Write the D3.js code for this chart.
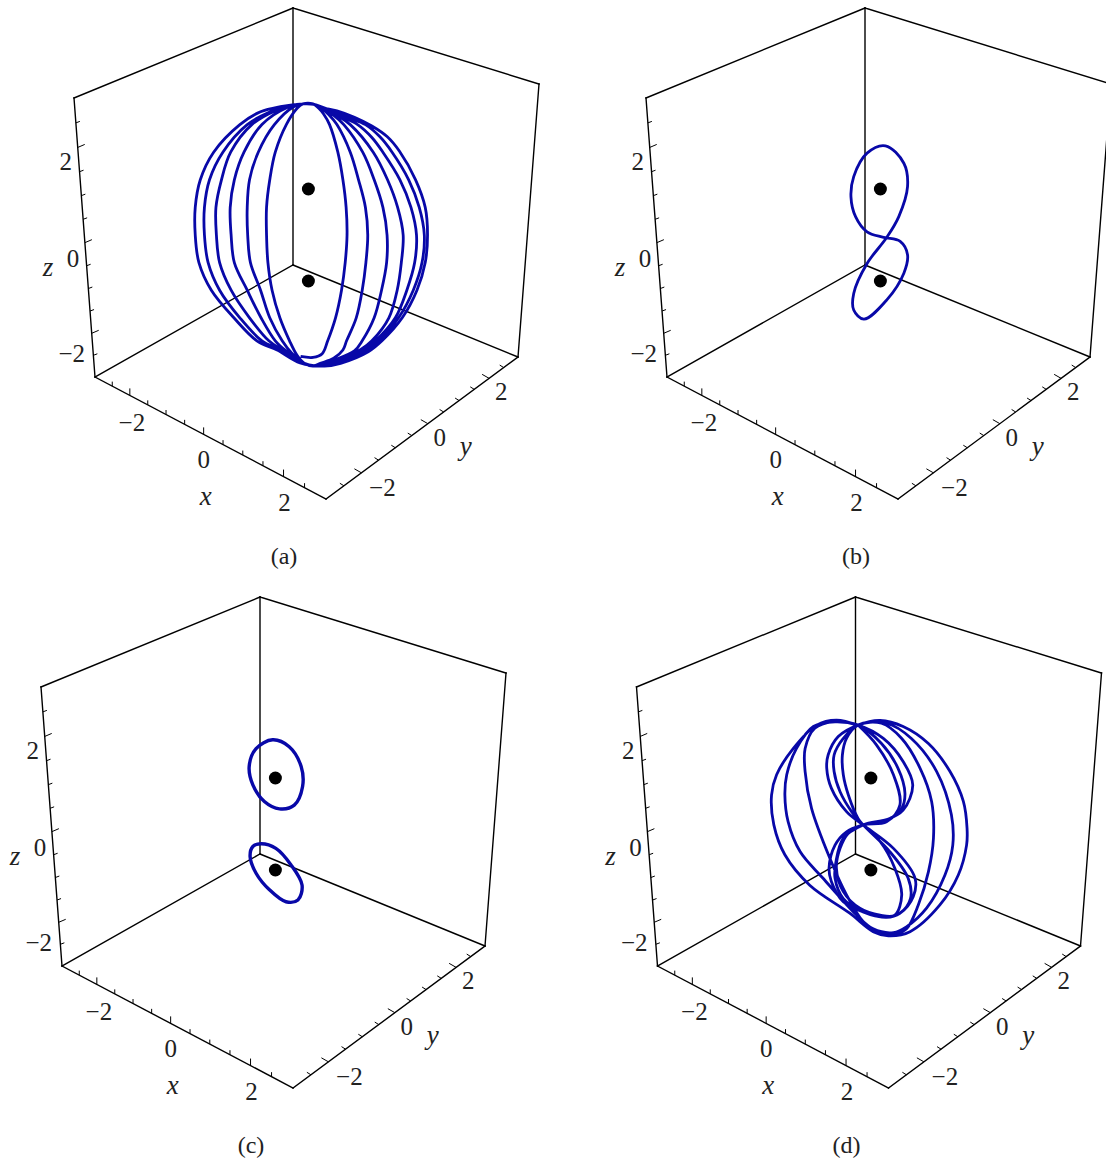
<!DOCTYPE html>
<html>
<head>
<meta charset="utf-8">
<script src="https://cdn.jsdelivr.net/npm/d3@7"></script>
<style>
  html, body { margin: 0; padding: 0; background: #fff; }
  svg { display: block; }
  text { font-family: "Liberation Serif", serif; fill: #222; }
</style>
</head>
<body>
<div id="chart"></div>
<script>
// *******************
// Data
// *******************

const panelNames = ["(a)", "(b)", "(c)", "(d)"];
const axisTicks = [-3, -2.5, -2, -1.5, -1, -0.5, 0, 0.5, 1, 1.5, 2, 2.5, 3];
const labelledTicks = [-2, 0, 2];
const bodyZ = [1, -1];

// orbits as [horizontal, vertical] in view units, z = 1 is one unit above the centre
const orbitA = [
  [-0.17,-2.64],[0.10,-2.66],[0.30,-2.58],[0.42,-2.30],[0.59,-1.80],[0.72,-1.20],[0.80,-0.60],[0.84,0],[0.82,0.60],[0.75,1.20],[0.64,1.80],[0.46,2.40],[0.33,2.63],[0.22,2.76],[0.10,2.85],[-0.12,2.85],[-0.24,2.76],
  [-0.48,2.40],[-0.72,1.80],[-0.84,1.20],[-0.91,0.60],[-0.91,0],[-0.88,-0.60],[-0.79,-1.20],[-0.62,-1.80],[-0.41,-2.30],[-0.25,-2.61],[-0.10,-2.78],[0.10,-2.85],
  [0.26,-2.79],[0.55,-2.68],[0.75,-2.50],[0.83,-2.30],[1.04,-1.80],[1.17,-1.20],[1.25,-0.60],[1.29,0],[1.24,0.60],[1.09,1.20],[0.91,1.80],[0.62,2.40],[0.44,2.62],[0.30,2.74],[0.12,2.84],[-0.12,2.85],[-0.32,2.79],
  [-0.74,2.40],[-1.09,1.80],[-1.28,1.20],[-1.33,0.60],[-1.32,0],[-1.26,-0.60],[-1.04,-1.20],[-0.84,-1.80],[-0.57,-2.30],[-0.36,-2.57],[-0.10,-2.78],[0.15,-2.85],
  [0.55,-2.72],[1.00,-2.52],[1.17,-2.30],[1.43,-1.80],[1.59,-1.20],[1.70,-0.60],[1.71,0],[1.62,0.60],[1.43,1.20],[1.18,1.80],[0.77,2.40],[0.55,2.60],[0.36,2.73],[0.12,2.84],[-0.12,2.85],[-0.46,2.77],
  [-1.01,2.40],[-1.40,1.80],[-1.61,1.20],[-1.70,0.60],[-1.68,0],[-1.61,-0.60],[-1.33,-1.20],[-1.03,-1.80],[-0.72,-2.30],[-0.46,-2.54],[-0.12,-2.78],[0.20,-2.85],
  [0.62,-2.74],[1.14,-2.49],[1.38,-2.30],[1.75,-1.80],[1.93,-1.20],[2.02,-0.60],[2.06,0],[1.94,0.60],[1.72,1.20],[1.41,1.80],[0.91,2.40],[0.65,2.58],[0.42,2.71],[0.12,2.84],[-0.12,2.85],[-0.39,2.81],[-0.68,2.72],
  [-1.23,2.40],[-1.69,1.80],[-1.89,1.20],[-2.01,0.60],[-2.00,0],[-1.93,-0.60],[-1.68,-1.20],[-1.28,-1.80],[-0.86,-2.30],[-0.54,-2.52],[-0.14,-2.78],[0.25,-2.85],
  [0.66,-2.75],[1.20,-2.50],[1.46,-2.30],[1.89,-1.80],[2.14,-1.20],[2.31,-0.60],[2.35,0],[2.23,0.60],[1.99,1.20],[1.62,1.80],[1.38,2.12],[1.07,2.40],[0.75,2.56],[0.45,2.70],[0.12,2.84],[-0.12,2.85],[-0.50,2.79],[-0.83,2.68],
  [-1.33,2.40],[-1.86,1.80],[-2.15,1.20],[-2.26,0.60],[-2.26,0],[-2.18,-0.60],[-1.93,-1.20],[-1.49,-1.80],[-1.01,-2.30],[-0.61,-2.50],[-0.15,-2.78],[0.30,-2.85],
  [0.68,-2.77],[1.24,-2.52],[1.53,-2.30],[1.96,-1.80],[2.28,-1.20],[2.47,-0.60],[2.52,0],[2.41,0.60],[2.18,1.20],[1.82,1.80],[1.55,2.14],[1.24,2.40],[0.90,2.54],[0.50,2.70],[0.12,2.84],[-0.12,2.85],[-0.61,2.79],[-1.04,2.68],
  [-1.49,2.40],[-2.06,1.80],[-2.35,1.20],[-2.46,0.60],[-2.46,0],[-2.38,-0.60],[-2.11,-1.20],[-1.62,-1.80],[-1.12,-2.30],[-0.68,-2.50],[-0.18,-2.78],[0.35,-2.85],
  [0.70,-2.79],[1.30,-2.54],[1.60,-2.30],[2.04,-1.80],[2.36,-1.20],[2.54,-0.60],[2.59,0],[2.54,0.60],[2.33,1.20],[1.98,1.82],[1.71,2.14],[1.38,2.37],[1.00,2.56],[0.62,2.70],[0.30,2.77],[0.12,2.84]
];

const orbitB = [
  [0.14,-0.05],[0.40,0.40],[0.59,1.05],[0.51,1.56],[0.11,1.94],[-0.29,1.78],[-0.58,1.27],[-0.64,0.83],[-0.54,0.40],[-0.29,0.07],
  [0.07,-0.05],[0.43,-0.14],[0.59,-0.43],[0.51,-0.83],[0.14,-1.41],[-0.36,-1.83],[-0.58,-1.63],[-0.58,-1.27],[-0.29,-0.62]
];

const orbitCUpper = [
  [-0.06,1.83],[0.30,1.68],[0.56,1.25],[0.59,0.81],[0.41,0.41],[0.09,0.33],[-0.24,0.49],[-0.49,0.85],[-0.57,1.25],[-0.42,1.64]
];
const orbitCLower = [
  [-0.31,-0.43],[0.01,-0.53],[0.34,-0.89],[0.58,-1.33],[0.49,-1.65],[0.23,-1.69],[-0.13,-1.43],[-0.42,-1.07],[-0.55,-0.71],[-0.49,-0.49]
];

const orbitD = [
  [-0.28,2.15],[-0.75,2.26],[-1.18,2.15],[-1.69,1.64],[-2.05,1.07],[-2.16,0.63],[-2.11,-0.02],[-1.87,-0.67],[-1.33,-1.33],[-0.46,-1.94],[0.05,-2.34],[0.38,-2.43],[0.85,-2.34],[1.50,-1.76],[1.90,-1.11],[2.08,-0.46],[2.09,-0.09],[2.01,0.49],[1.72,1.14],[1.25,1.75],[0.70,2.12],[0.20,2.25],[-0.28,2.15],
  [-0.71,1.90],[-0.93,1.50],[-0.96,1.21],[-0.86,0.78],[-0.53,0.27],[-0.17,-0.02],
  [0.49,-0.53],[0.96,-1.18],[0.92,-1.58],[0.63,-1.94],[0.34,-2.03],[-0.09,-1.94],[-0.60,-1.69],[-0.86,-1.25],[-0.91,-0.96],[-0.78,-0.46],[-0.53,-0.17],[-0.17,-0.02],
  [0.34,0.09],[0.70,0.30],[0.91,0.85],[0.70,1.36],[0.27,1.86],[-0.28,2.15],
  [-0.78,2.22],[-1.25,2.12],[-1.62,1.64],[-1.83,1.07],[-1.87,0.63],[-1.80,0.05],[-1.54,-0.60],[-1.04,-1.18],[-0.31,-1.98],[0.05,-2.28],[0.49,-2.36],[0.78,-2.23],[1.21,-1.83],[1.61,-1.11],[1.78,-0.46],[1.75,0.20],[1.43,1.14],[0.88,1.86],[0.34,2.19],[-0.28,2.15],
  [-0.60,1.86],[-0.80,1.50],[-0.80,1.14],[-0.67,0.70],[-0.42,0.27],[-0.17,-0.02],
  [0.41,-0.60],[0.81,-1.18],[0.86,-1.62],[0.63,-1.94],[0.38,-2.02],[-0.17,-1.91],[-0.60,-1.62],[-0.78,-1.18],[-0.76,-0.82],[-0.60,-0.31],[-0.17,-0.02],
  [0.41,0.12],[0.67,0.34],[0.74,0.67],[0.59,1.21],[0.23,1.75],[-0.28,2.15],
  [-0.82,2.22],[-1.22,2.08],[-1.43,1.64],[-1.43,1.14],[-1.29,0.34],[-0.89,-0.75],[-0.53,-1.54],[-0.17,-2.12],[0.12,-2.36],[0.56,-2.38],[0.78,-2.27],[1.03,-1.76],[1.25,-1.04],[1.36,-0.31],[1.32,0.49],[1.07,1.21],[0.67,1.86],[0.23,2.19],[-0.28,2.15],
  [-0.53,1.86],[-0.62,1.50],[-0.60,1.07],[-0.49,0.63],[-0.28,0.12],[-0.17,-0.02],
  [0.20,-0.38],[0.52,-0.96],[0.67,-1.54],[0.52,-1.98],[0.20,-1.98],[-0.24,-1.83],[-0.60,-1.47],[-0.75,-0.96],[-0.67,-0.53],[-0.49,-0.20],[-0.17,-0.02],
  [0.34,0.05],[0.63,0.41],[0.49,1.07],[0.12,1.72],[-0.28,2.15]
];

// open paths and closed loops for each panel
const panelOrbits = [
  { open: [orbitA], closed: [] },
  { open: [], closed: [orbitB] },
  { open: [], closed: [orbitCUpper, orbitCLower] },
  { open: [orbitD], closed: [] },
];

// *******************
// Layout
// *******************

const WIDTH = 1106;
const HEIGHT = 1160;
const BLUE = "#0808a8";
const PANEL_OFFSET = [[0, 0], [572, 0], [-33, 589], [562.5, 589]];
const CAPTION_POS = [284, 556];
const ORBIT_WIDTH = [2.8, 2.8, 3.4, 2.8]; // the loops in (c) are retraced, so they look heavier

// box corners of the first panel, the others are shifted copies
const BOX = {
  backTop: [293, 8],
  leftTop: [74, 98],
  rightTop: [539, 84],
  back: [293, 265],
  left: [95, 377],
  right: [518, 357],
  front: [326, 499],
};

// centre of the view and pixels per view unit
const VIEW_CENTER = [308.4, 235];
const VIEW_UNIT = 46;

const xEdge = edgeScale(BOX.left, BOX.front, 0.888);
const yEdge = edgeScale(BOX.front, BOX.right, 1.13);
const zEdge = edgeScale(BOX.leftTop, BOX.left, 1.077, true);

const xLabelOffset = [[2, 27], [0, 25], [1, 26]];
const yLabelOffset = [[21, 15], [12, 14], [12, 13]];
const zLabelOffset = [[-20, 20], [-12, 16], [-12, 14]];

// Straight edge in perspective: equal steps get shorter toward the far end.
function edgeScale(p0, p1, ratio, flip = false) {
  const unit = d3.scaleLinear().domain(flip ? [3, -3] : [-3, 3]).range([0, 1]);
  const px = d3.scaleLinear().domain([0, 1]).range([p0[0], p1[0]]);
  const py = d3.scaleLinear().domain([0, 1]).range([p0[1], p1[1]]);
  return (value) => {
    const u = unit(value);
    const s = (u * ratio) / (1 - u + u * ratio);
    return [px(s), py(s)];
  };
}

const svg = d3
  .select("#chart")
  .append("svg")
  .attr("width", WIDTH)
  .attr("height", HEIGHT)
  .attr("viewBox", `0 0 ${WIDTH} ${HEIGHT}`);

function drawEdges(g) {
  const edges = [
    [BOX.leftTop, BOX.backTop],
    [BOX.backTop, BOX.rightTop],
    [BOX.backTop, BOX.back],
    [BOX.back, BOX.left],
    [BOX.back, BOX.right],
    [BOX.leftTop, BOX.left],
    [BOX.rightTop, BOX.right],
    [BOX.left, BOX.front],
    [BOX.front, BOX.right],
  ];
  g.selectAll("line.edge")
    .data(edges)
    .join("line")
    .attr("class", "edge")
    .attr("x1", (d) => d[0][0])
    .attr("y1", (d) => d[0][1])
    .attr("x2", (d) => d[1][0])
    .attr("y2", (d) => d[1][1])
    .attr("stroke", "#000")
    .attr("stroke-width", 1.4)
    .attr("stroke-linecap", "square");
}

function drawAxis(g, edge, major, minor, labelOffset, title, titleOffset) {
  const ticks = axisTicks.slice(1, -1);
  g.selectAll(null)
    .data(ticks)
    .join("line")
    .attr("x1", (d) => edge(d)[0])
    .attr("y1", (d) => edge(d)[1])
    .attr("x2", (d) => edge(d)[0] + (d % 2 === 0 ? major : minor)[0])
    .attr("y2", (d) => edge(d)[1] + (d % 2 === 0 ? major : minor)[1])
    .attr("stroke", "#000")
    .attr("stroke-width", 1);

  g.selectAll(null)
    .data(labelledTicks)
    .join("text")
    .attr("x", (d, i) => edge(d)[0] + labelOffset[i][0])
    .attr("y", (d, i) => edge(d)[1] + labelOffset[i][1])
    .attr("text-anchor", "middle")
    .attr("dominant-baseline", "central")
    .attr("font-size", 25)
    .text((d) => (d < 0 ? `\u2212${-d}` : d));

  g.append("text")
    .attr("x", edge(0)[0] + titleOffset[0])
    .attr("y", edge(0)[1] + titleOffset[1])
    .attr("text-anchor", "middle")
    .attr("dominant-baseline", "central")
    .attr("font-size", 27)
    .attr("font-style", "italic")
    .text(title);
}

function drawPanel(name, orbits, offset, orbitWidth) {
  const g = svg.append("g").attr("transform", `translate(${offset[0]},${offset[1]})`);

  drawEdges(g);
  drawAxis(g, xEdge, [0, -7], [0, -4.5], xLabelOffset, "x", [2, 62]);
  drawAxis(g, yEdge, [-7, -4], [-4, -2.5], yLabelOffset, "y", [38, 22]);
  drawAxis(g, zEdge, [7, -3], [4, -1.5], zLabelOffset, "z", [-37, 24]);

  const h = d3.scaleLinear().domain([0, 1]).range([VIEW_CENTER[0], VIEW_CENTER[0] + VIEW_UNIT]);
  const v = d3.scaleLinear().domain([0, 1]).range([VIEW_CENTER[1], VIEW_CENTER[1] - VIEW_UNIT]);

  const openLine = d3.line().x((d) => h(d[0])).y((d) => v(d[1])).curve(d3.curveCatmullRom.alpha(0.5));
  const closedLine = d3.line().x((d) => h(d[0])).y((d) => v(d[1])).curve(d3.curveCatmullRomClosed.alpha(0.5));

  orbits.open.concat(orbits.closed).forEach((orbit) => {
    g.append("path")
      .attr("d", orbits.open.includes(orbit) ? openLine(orbit) : closedLine(orbit))
      .attr("fill", "none")
      .attr("stroke", BLUE)
      .attr("stroke-width", orbitWidth)
      .attr("stroke-linejoin", "round");
  });

  g.selectAll("circle")
    .data(bodyZ)
    .join("circle")
    .attr("cx", h(0))
    .attr("cy", (d) => v(d))
    .attr("r", 6.5)
    .attr("fill", "#000");

  g.append("text")
    .attr("x", CAPTION_POS[0])
    .attr("y", CAPTION_POS[1])
    .attr("text-anchor", "middle")
    .attr("dominant-baseline", "central")
    .attr("font-size", 24)
    .text(name);
}

panelNames.forEach((name, i) => drawPanel(name, panelOrbits[i], PANEL_OFFSET[i], ORBIT_WIDTH[i]));
</script>
</body>
</html>
